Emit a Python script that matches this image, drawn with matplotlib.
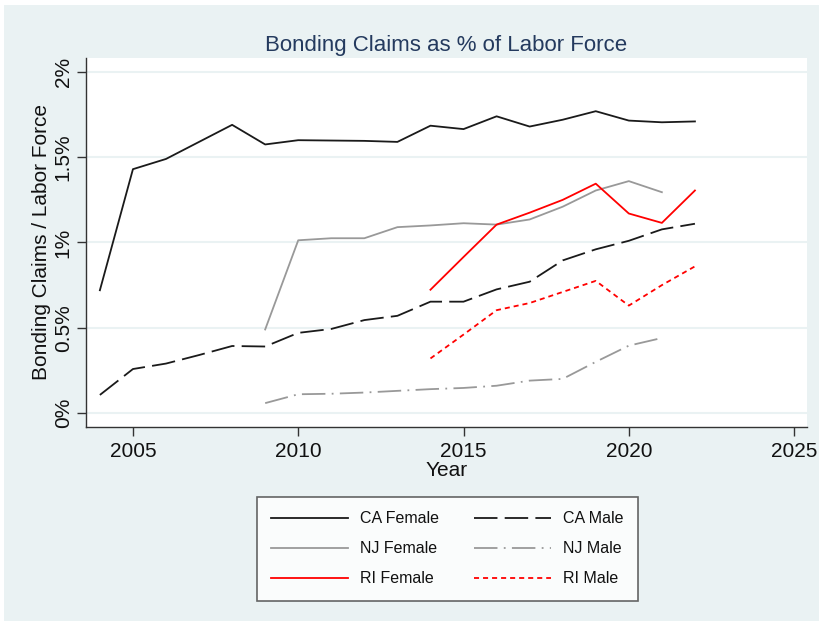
import matplotlib
matplotlib.use("Agg")
import matplotlib.pyplot as plt
from matplotlib.patches import Rectangle
from matplotlib.ticker import FuncFormatter

plt.rcParams['font.family'] = ['Liberation Sans', 'DejaVu Sans']

# Bonding claims as % of labor force
years_ca = list(range(2004, 2023))
ca_female = [0.72, 1.43, 1.49, 1.59, 1.69, 1.575, 1.60, 1.598, 1.596, 1.59, 1.685,
             1.665, 1.74, 1.68, 1.72, 1.77, 1.715, 1.705, 1.71]
ca_male = [0.106, 0.258, 0.29, 0.34, 0.393, 0.39, 0.47, 0.493, 0.545, 0.57, 0.653,
           0.653, 0.725, 0.77, 0.895, 0.96, 1.01, 1.077, 1.11]

years_nj = list(range(2009, 2022))
nj_female = [0.49, 1.013, 1.025, 1.025, 1.09, 1.10, 1.113, 1.105, 1.135, 1.21,
             1.305, 1.36, 1.295]
nj_male = [0.058, 0.11, 0.113, 0.12, 0.13, 0.14, 0.147, 0.16, 0.19, 0.2,
           0.30, 0.395, 0.44]

years_ri = list(range(2014, 2023))
ri_female = [0.723, 0.915, 1.105, 1.175, 1.25, 1.345, 1.17, 1.115, 1.305]
ri_male = [0.32, 0.46, 0.603, 0.645, 0.71, 0.775, 0.63, 0.75, 0.86]

bg = '#EAF2F3'
W, H = 819, 623

fig = plt.figure(figsize=(W / 100, H / 100), dpi=100, facecolor='white')
# Stata-style light background panel
fig.patches.append(Rectangle((4 / W, 2 / H), 1 - 4 / W, 1 - 7 / H,
                             transform=fig.transFigure, facecolor=bg,
                             edgecolor='none', zorder=-10))

ax = fig.add_axes([86 / W, 1 - 427 / H, (807 - 86) / W, (427 - 58) / H])
ax.set_facecolor('white')

lw = 1.3
ax.plot(years_ca, ca_female, color='#1a1a1a', lw=lw, label='CA Female')
ax.plot(years_nj, nj_female, color='#999999', lw=lw, label='NJ Female')
ax.plot(years_ri, ri_female, color='#ff0000', lw=lw, label='RI Female')
ax.plot(years_ca, ca_male, color='#1a1a1a', lw=lw, dashes=(13, 4), label='CA Male')
ax.plot(years_nj, nj_male, color='#999999', lw=lw, dashes=(13, 3.5, 1, 3.5), label='NJ Male')
ax.plot(years_ri, ri_male, color='#ff0000', lw=lw, dashes=(2.8, 2.2), label='RI Male')

ax.set_xlim(2003.58, 2025.39)
ax.set_ylim(-0.082, 2.082)
ax.set_xticks([2005, 2010, 2015, 2020, 2025])
ax.set_yticks([0, 0.5, 1.0, 1.5, 2.0])
ax.yaxis.set_major_formatter(FuncFormatter(lambda v, p: f"{v:g}%"))

ax.grid(axis='y', color=bg, lw=1.5)
ax.set_axisbelow(True)
for s in ['top', 'right']:
    ax.spines[s].set_visible(False)
for s in ['left', 'bottom']:
    ax.spines[s].set_color('#333333')
    ax.spines[s].set_linewidth(1.0)

ax.tick_params(axis='both', direction='out', length=6.5, width=1.0,
               color='#333333', labelsize=15, labelcolor='#111111')
ax.tick_params(axis='x', pad=4)
ax.tick_params(axis='y', pad=3)
for t in ax.get_yticklabels():
    t.set_rotation(90)
    t.set_va('center')

ax.set_xlabel('Year', fontsize=15, color='#111111', labelpad=0)
ax.set_ylabel('Bonding Claims / Labor Force', fontsize=15, color='#111111', labelpad=2)
ax.set_title('Bonding Claims as % of Labor Force', fontsize=16, color='#243A5E', pad=5)

leg = fig.legend(loc='upper left', bbox_to_anchor=(257 / W, 1 - 497 / H),
                 ncol=2, fontsize=11.5, frameon=True, fancybox=False,
                 handlelength=4.8, handletextpad=0.75, columnspacing=2.2,
                 labelspacing=0.94, borderpad=0.9, borderaxespad=0)
leg.get_frame().set_edgecolor('#404040')
leg.get_frame().set_linewidth(1.2)
leg.get_frame().set_facecolor('white')
for t in leg.get_texts():
    t.set_color('#111111')

fig.savefig('out.png', dpi=100, facecolor=fig.get_facecolor())
